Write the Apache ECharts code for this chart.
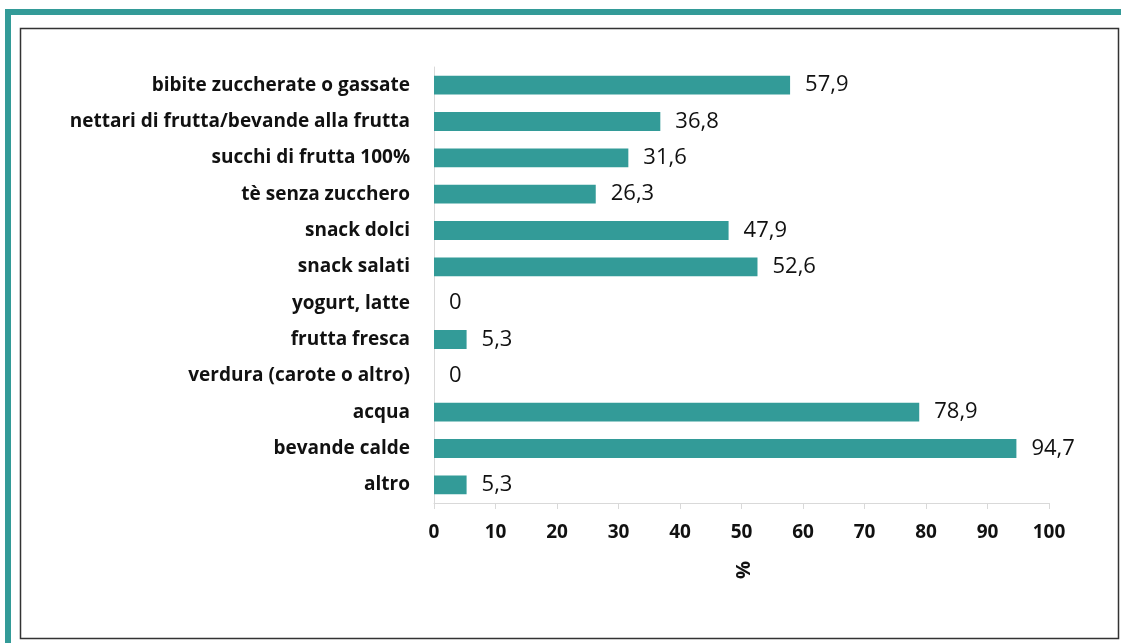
<!DOCTYPE html>
<html>
<head>
<meta charset="utf-8">
<script src="https://cdn.jsdelivr.net/npm/echarts@6/dist/echarts.min.js"></script>
<style>
html,body{margin:0;padding:0;background:#fff;}
#c{width:1121px;height:643px;}
</style>
</head>
<body>
<div id="c"></div>
<script>
const categories = [
  "bibite zuccherate o gassate",
  "nettari di frutta/bevande alla frutta",
  "succhi di frutta 100%",
  "tè senza zucchero",
  "snack dolci",
  "snack salati",
  "yogurt, latte",
  "frutta fresca",
  "verdura (carote o altro)",
  "acqua",
  "bevande calde",
  "altro"
];
const values = [57.9, 36.8, 31.6, 26.3, 47.9, 52.6, 0, 5.3, 0, 78.9, 94.7, 5.3];
const xTicks = [0, 10, 20, 30, 40, 50, 60, 70, 80, 90, 100];
const axisTitle = "%";

const FONT = "Open Sans";
const chart = echarts.init(document.getElementById('c'), null, {renderer: 'canvas'});
chart.setOption({
  animation: false,
  backgroundColor: '#ffffff',
  graphic: [
    {type: 'rect', shape: {x: 5, y: 9, width: 1116, height: 6}, style: {fill: '#339b98'}},
    {type: 'rect', shape: {x: 5, y: 9, width: 6, height: 634}, style: {fill: '#339b98'}},
    {type: 'rect', shape: {x: 20.5, y: 28.5, width: 1098, height: 610}, style: {fill: 'none', stroke: '#333333', lineWidth: 1.5}}
  ],
  grid: {left: 434, right: 72, top: 67, bottom: 140, containLabel: false},
  xAxis: {
    type: 'value',
    min: xTicks[0], max: xTicks[xTicks.length - 1], interval: 10,
    name: axisTitle,
    nameLocation: 'middle',
    nameGap: 58,
    nameRotate: -90,
    nameTextStyle: {fontFamily: FONT, fontWeight: 'bold', fontSize: 20, color: '#111111'},
    axisLine: {show: true, lineStyle: {color: '#d9d9d9', width: 1}},
    axisTick: {show: true, length: 6, lineStyle: {color: '#d9d9d9'}},
    axisLabel: {fontFamily: FONT, fontWeight: 'bold', fontSize: 19, color: '#111111', margin: 20},
    splitLine: {show: false}
  },
  yAxis: {
    type: 'category',
    data: categories,
    inverse: true,
    axisLine: {show: true, lineStyle: {color: '#d9d9d9', width: 1}},
    axisTick: {show: false},
    axisLabel: {fontFamily: FONT, fontWeight: 'bold', fontSize: 19, color: '#111111', margin: 24}
  },
  series: [{
    type: 'bar',
    data: values,
    barWidth: '52%',
    itemStyle: {color: '#339b98'},
    label: {
      show: true,
      position: 'right',
      distance: 15,
      fontFamily: FONT,
      fontSize: 22,
      color: '#111111',
      formatter: p => String(p.value).replace('.', ',')
    }
  }]
});
</script>
</body>
</html>
